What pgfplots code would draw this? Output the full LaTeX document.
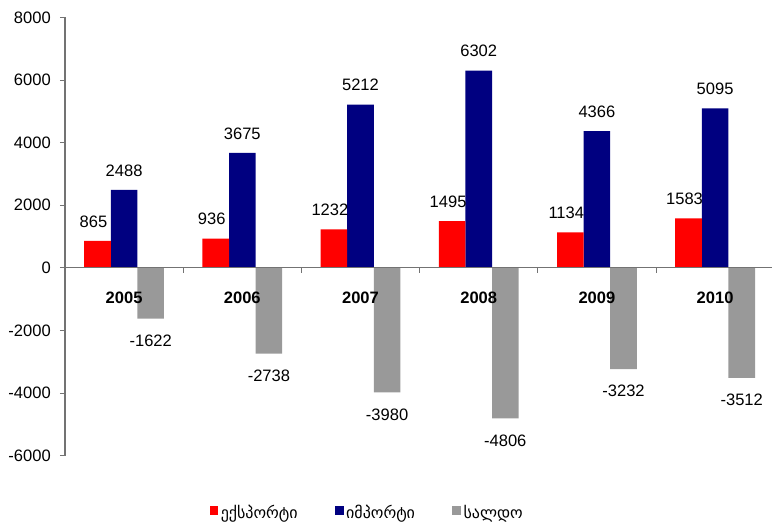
\documentclass[border=0pt]{standalone}
\usepackage{pgfplots}
\pgfplotsset{compat=1.18}
\usepackage{fontspec}
\setmainfont{Liberation Sans}
\newfontfamily\geo{DejaVu Sans}
\definecolor{cexp}{HTML}{FF0000}
\definecolor{cimp}{HTML}{000080}
\definecolor{csal}{HTML}{999999}
\begin{document}
\begin{tikzpicture}
\useasboundingbox (-48.75pt,-56.5pt) rectangle (530.25pt,341.8pt);
\begin{axis}[
  scale only axis,
  x=88.65pt, y=0.02348pt,
  xmin=-0.5, xmax=5.5, ymin=-6000, ymax=8000,
  axis on top,
  ybar, bar width=19.95pt,
  axis y line*=left, axis x line*=middle,
  axis line style={black!55, line width=0.8pt},
  tick align=outside,
  major tick length=3.75pt, minor tick length=3.75pt,
  tick style={black!55, line width=0.6pt},
  ytick={-6000,-4000,-2000,0,2000,4000,6000,8000},
  yticklabel style={font=\fontsize{12.4}{14}\selectfont, xshift=-3.4pt},
  xtick={0,1,2,3,4,5},
  xticklabels={2005,2006,2007,2008,2009,2010},
  major x tick style={draw=none},
  minor xtick={0.5,1.5,2.5,3.5,4.5},
  xticklabel style={font=\fontsize{12.4}{14}\selectfont\bfseries, yshift=-11pt},
  /pgf/number format/assume math mode=true,
  /pgf/number format/1000 sep={},
  nodes near coords,
  every node near coord/.append style={font=\fontsize{12.4}{14}\selectfont, anchor=center},
  legend columns=3,
  legend style={draw=none, fill=none, inner sep=0pt, at={(0.2035,-0.131)}, anchor=west,
    font=\geo\fontsize{12}{14}\selectfont,
    /tikz/every even column/.append style={column sep=26pt},
    nodes={inner sep=2pt}},
  legend image code/.code={\fill[#1, draw=none] (0pt,-1.3pt) rectangle (6.4pt,5.1pt);},
]
\addlegendimage{fill=cexp}
\addlegendimage{fill=cimp}
\addlegendimage{fill=csal}
\addplot[forget plot, fill=cimp, draw=none, bar shift=0pt, every node near coord/.append style={yshift=14.6pt}]
  coordinates {(0,2488) (1,3675) (2,5212) (3,6302) (4,4366) (5,5095)};
\addplot[forget plot, fill=csal, draw=none, bar shift=19.95pt, every node near coord/.append style={yshift=-16.5pt}]
  coordinates {(0,-1622) (1,-2738) (2,-3980) (3,-4806) (4,-3232) (5,-3512)};
\addplot[forget plot, fill=cexp, draw=none, bar shift=-19.95pt, every node near coord/.append style={yshift=14.6pt, xshift=-3pt}]
  coordinates {(0,865) (1,936) (2,1232) (3,1495) (4,1134) (5,1583)};
\legend{ექსპორტი, იმპორტი, სალდო}
\end{axis}
\end{tikzpicture}
\end{document}
